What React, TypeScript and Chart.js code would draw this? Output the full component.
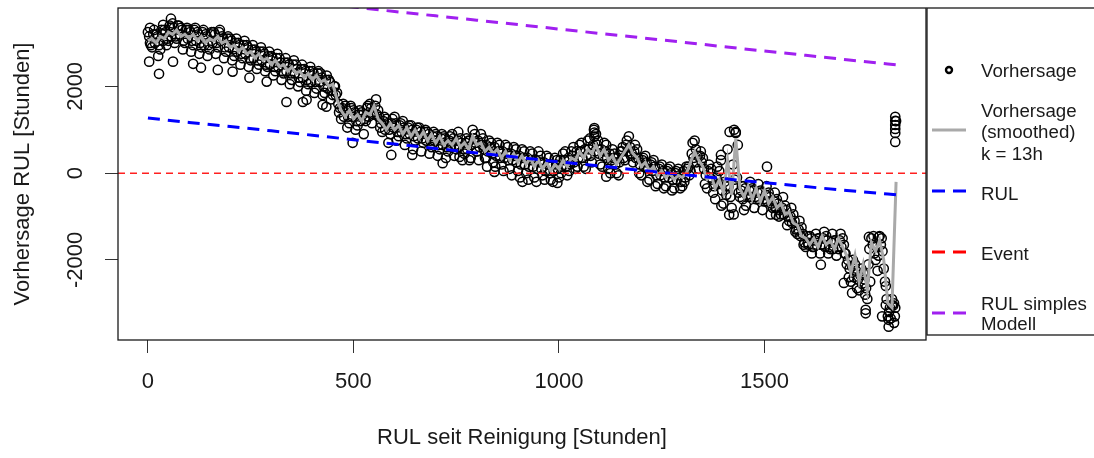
import React, { useEffect, useRef } from 'react';
import { Chart, registerables } from 'chart.js';

Chart.register(...registerables);

// ---------- data ----------
const X_MIN = -72.8;
const X_MAX = 1892.8;
const Y_MIN = -3845;
const Y_MAX = 3806;
const xTicks = [0, 500, 1000, 1500];
const yTicks = [-2000, 0, 2000];

// smoothed prediction (k = 13h), every 10 h from 0 to 1820
const smoothed = [
  3050, 3100, 3000, 3150, 3100, 3250, 3200, 3300, 3150, 3200,
  3100, 3200, 3050, 3150, 3000, 3100, 3050, 3150, 3000, 3050,
  2900, 2950, 2800, 2900, 2750, 2800, 2650, 2750, 2600, 2650,
  2500, 2600, 2450, 2500, 2350, 2450, 2300, 2350, 2200, 2300,
  2150, 2250, 2100, 2150, 2000, 2050, 1700, 1450, 1300, 1450,
  1250, 1350, 1200, 1400, 1350, 1550, 1250, 1150, 1000, 1150,
  1000, 1100, 900, 1050, 850, 1000, 800, 950, 750, 900,
  700, 850, 650, 750, 650, 800, 600, 700, 550, 850,
  650, 700, 500, 600, 450, 550, 350, 500, 300, 450,
  250, 400, 200, 350, 150, 300, 100, 250, 50, 200,
  100, 300, 150, 350, 300, 500, 350, 550, 450, 650,
  400, 550, 300, 400, 200, 350, 500, 650, 450, 350,
  150, 250, 50, 150, -50, 50, -100, 0, -150, -50,
  -100, 0, 250, 500, 300, 150, -150, -50, -350, -150,
  -450, 300, -500, 800, -350, -550, -300, -600, -350, -650,
  -400, -700, -550, -800, -700, -950, -900, -1150, -1200, -1450,
  -1500, -1650, -1500, -1700, -1450, -1650, -1550, -1750, -1500, -1700,
  -1900, -2300, -1900, -2500, -2100, -2700, -1600, -1800, -1550, -2000,
  -3000, -3100, -200,
];

// predictions at x = 0, 10, 20, ... 1820
const predA = [
  3250, 2900, 3200, 2850, 3300, 3050, 3450, 3100, 3350, 3000,
  3300, 2950, 3250, 2900, 3200, 2850, 3250, 2900, 3150, 2800,
  3100, 2700, 3000, 2650, 2950, 2600, 2850, 2500, 2800, 2450,
  2700, 2350, 2650, 2300, 2550, 2150, 2500, 2100, 2400, 2050,
  2350, 1950, 2300, 1850, 2150, 1800, 1850, 1250, 1550, 1150,
  1450, 1100, 1400, 1200, 1600, 1350, 1450, 950, 1250, 900,
  1300, 850, 1200, 800, 1100, 750, 1050, 700, 950, 600,
  900, 550, 850, 500, 900, 550, 800, 450, 750, 1000,
  500, 900, 350, 750, 250, 700, 200, 650, 100, 600,
  50, 550, 0, 500, -100, 500, -50, 400, -150, 350,
  -100, 450, -50, 500, 100, 650, 150, 750, 250, 900,
  200, 700, 100, 550, 0, 500, 300, 850, 250, 550,
  -50, 400, -150, 300, -250, 200, -300, 150, -350, 100,
  -300, 150, 50, 750, 100, 350, -350, 100, -600, 50,
  -700, 550, -800, 950, -550, -300, -550, -350, -600, -400,
  -650, -450, -800, -600, -950, -750, -1100, -950, -1400, -1250,
  -1700, -1450, -1700, -1500, -1650, -1450, -1750, -1550, -1750, -1500,
  -2100, -2500, -2100, -2700, -2300, -2900, -1500, -2000, -1450, -2200,
  -3300, -2900, 1200,
];

// predictions at x = 5, 15, 25, ... 1815
const predB = [
  3000, 3300, 2700, 3200, 2950, 3350, 3000, 3400, 2850, 3350,
  2800, 3350, 2750, 3300, 2700, 3250, 2750, 3300, 2650, 3150,
  2600, 3100, 2500, 3050, 2450, 2950, 2400, 2900, 2350, 2800,
  2250, 2750, 2150, 2650, 2050, 2600, 2000, 2500, 1900, 2450,
  1850, 2350, 1800, 2250, 1700, 2000, 1400, 1600, 1050, 1500,
  1000, 1450, 900, 1550, 1150, 1700, 1050, 1300, 700, 1250,
  750, 1150, 650, 1100, 550, 1050, 500, 1000, 450, 950,
  400, 900, 350, 850, 400, 950, 300, 800, 350, 900,
  300, 800, 150, 700, 150, 650, 50, 600, -50, 550,
  -100, 500, -150, 450, -200, 400, -150, 350, -200, 300,
  0, 500, 50, 600, 150, 700, 100, 800, 1000, 750,
  150, 650, 0, 450, -50, 600, 750, 400, 650, 0,
  350, -200, 250, -300, 150, -350, 100, -400, 50, -350,
  -200, 150, 700, 250, 500, -250, 200, -450, 150, -750,
  -300, 950, -950, 650, -300, -750, -200, -800, -250, -850,
  -300, -950, -450, -1000, -550, -1200, -800, -1350, -1100, -1650,
  -1600, -1850, -1400, -1850, -1350, -1850, -1400, -1900, -1400, -1850,
  -2400, -2000, -2650, -2200, -2800, -1750, -1450, -2250, -1500, -2600,
  -3100, -3450,
];

// predictions at x = 3, 13, 23, ... 1813
const predC = [
  3150, 3200, 3150, 3300, 3250, 3400, 3350, 3400, 3300, 3300,
  3250, 3300, 3200, 3250, 3150, 3200, 3200, 3250, 3100, 3100,
  3050, 3000, 2950, 2950, 2900, 2850, 2800, 2800, 2750, 2700,
  2650, 2650, 2550, 2550, 2500, 2500, 2400, 2400, 2350, 2350,
  2300, 2300, 2200, 2150, 2100, 2000, 1600, 1500, 1450, 1550,
  1400, 1350, 1350, 1500, 1500, 1550, 1300, 1200, 1150, 1150,
  1150, 1100, 1050, 1050, 1000, 1000, 950, 950, 900, 850,
  850, 800, 800, 750, 800, 750, 700, 700, 750, 800,
  750, 650, 650, 600, 600, 500, 500, 450, 450, 400,
  400, 350, 350, 300, 300, 250, 250, 200, 200, 200,
  300, 300, 350, 400, 500, 500, 550, 550, 650, 650,
  550, 500, 450, 350, 350, 500, 650, 600, 500, 350,
  300, 250, 200, 150, 100, 50, 50, 0, 0, -50,
  50, 100, 450, 550, 400, 100, 50, -150, -100, -250,
  -200, -300, 200, -100, -400, -350, -400, -400, -450, -450,
  -500, -550, -650, -700, -800, -850, -1000, -1100, -1300, -1400,
  -1450, -1500, -1550, -1500, -1500, -1550, -1600, -1550, -1550, -1650,
  -2000, -2150, -2250, -2350, -2450, -2100, -1650, -1700, -1650, -2500,
  -3200, -3050,
];

// predictions at x = 7, 17, 27, ... 1817
const predD = [
  2950, 3000, 2950, 3050, 3100, 3150, 3150, 3200, 3050, 3100,
  3050, 3050, 3000, 2950, 2950, 3000, 3000, 3050, 2900, 2900,
  2850, 2800, 2750, 2750, 2650, 2650, 2600, 2600, 2500, 2500,
  2450, 2450, 2350, 2350, 2300, 2300, 2200, 2200, 2150, 2100,
  2100, 2100, 2000, 1950, 1900, 1800, 1500, 1300, 1300, 1300,
  1200, 1200, 1250, 1300, 1400, 1350, 1150, 1000, 1000, 1050,
  950, 950, 900, 900, 850, 800, 800, 750, 750, 750,
  650, 650, 600, 600, 650, 600, 550, 550, 650, 700,
  600, 550, 500, 450, 400, 350, 350, 300, 300, 250,
  200, 200, 150, 150, 100, 100, 50, 0, 50, 100,
  150, 150, 200, 250, 350, 350, 400, 400, 500, 450,
  400, 350, 300, 200, 250, 350, 500, 450, 350, 200,
  150, 100, 50, -50, -50, -100, -100, -150, -150, -200,
  -100, -50, 350, 400, 250, -50, -100, -300, -250, -400,
  -500, -550, -150, -450, -600, -500, -550, -550, -600, -600,
  -650, -700, -800, -850, -950, -1000, -1150, -1300, -1450, -1600,
  -1650, -1700, -1650, -1650, -1700, -1700, -1750, -1700, -1700, -1850,
  -2200, -2400, -2450, -2550, -2650, -2500, -1850, -1900, -1800, -2900,
  -3350, -3300,
];

// isolated predictions
const extraX = [
  3, 27, 5, 37, 56, 61, 110, 129, 170, 206, 247, 289, 337, 377, 425, 386, 434,
  498, 592, 643, 717, 758, 782, 823, 843, 1086, 1086, 1086, 911, 996, 1115,
  1394, 1394, 1430, 1426, 1506, 1414, 1450, 1528, 1637, 1693, 1713, 1746, 1746,
  1754, 1778, 1786, 1802, 1802, 1795, 1810, 1818, 1818, 1818, 1818, 1818, 1818,
  1815, 1818,
];
const extraY = [
  2570, 2290, 3350, 3420, 3560, 2570, 2520, 2430, 2380, 2340, 2200, 2110, 1640, 1640, 1575, 1690, 1530,
  700, 420, 420, 230, 375, 300, 350, 30, 1040, 935, 840, -200, -225, -80,
  420, 300, 927, 1000, 150, -960, -850, -960, -2110, -2530, -2760, -3150, -3230,
  -1470, -1470, -3300, -3380, -3540, -3040, -3040, 1300, 1205, 1110, 1020, 925, 720,
  -3000, -3100,
];

// RUL (true)
const rulHours = [0, 100, 200, 300, 400, 500, 600, 700, 800, 900, 1000, 1100, 1200, 1300, 1400, 1500, 1600, 1700, 1800, 1820];
const rulValues = [1270, 1170, 1075, 975, 875, 770, 670, 570, 465, 365, 260, 165, 65, -30, -125, -220, -310, -400, -480, -500];

// RUL of simple model
const simpleHours = [0, 100, 200, 300, 400, 500, 600, 700, 800, 900, 1000, 1100, 1200, 1300, 1400, 1500, 1600, 1700, 1800, 1820];
const simpleValues = [4330, 4230, 4130, 4030, 3930, 3830, 3725, 3625, 3525, 3425, 3320, 3220, 3120, 3020, 2915, 2815, 2715, 2615, 2515, 2495];

const eventLevel = 0;

const xTitle = 'RUL seit Reinigung [Stunden]';
const yTitle = 'Vorhersage RUL [Stunden]';

const legendEntries = [
  { kind: 'point', color: '#000000', lines: ['Vorhersage'] },
  { kind: 'line', color: '#A9A9A9', lines: ['Vorhersage', '(smoothed)', 'k = 13h'] },
  { kind: 'dash', color: '#0000FF', lines: ['RUL'] },
  { kind: 'dash', color: '#FF0000', lines: ['Event'] },
  { kind: 'dash', color: '#A020F0', lines: ['RUL simples', 'Modell'] },
];

// ---------- chart ----------
const FONT = '"Liberation Sans", Arial, Helvetica, sans-serif';

const rPlugin = {
  id: 'rStyle',
  afterDraw(chart: any) {
    const { ctx, chartArea } = chart;
    const { left, right, top, bottom } = chartArea;
    const yScale = chart.scales.y;
    ctx.save();
    // plot box
    ctx.strokeStyle = '#1a1a1a';
    ctx.lineWidth = 1.3;
    ctx.strokeRect(left, top, right - left, bottom - top);
    // y tick labels rotated
    ctx.fillStyle = '#1a1a1a';
    ctx.font = `22px ${FONT}`;
    ctx.textAlign = 'center';
    ctx.textBaseline = 'middle';
    for (const v of yTicks) {
      const py = yScale.getPixelForValue(v);
      ctx.save();
      ctx.translate(76, py);
      ctx.rotate(-Math.PI / 2);
      ctx.fillText(String(v), 0, 0);
      ctx.restore();
    }
    // legend box
    const lx = right;
    ctx.strokeRect(lx + 1, top, 400, 327);
    // legend entries
    const rowY = [70, 130, 191, 252, 313];
    const textRows = [[72], [112, 133, 155], [195], [255], [305, 325]];
    ctx.font = `18.7px ${FONT}`;
    ctx.textAlign = 'left';
    legendEntries.forEach((e, i) => {
      const y = rowY[i];
      const x0 = lx + 6;
      const x1 = lx + 40;
      ctx.save();
      if (e.kind === 'point') {
        ctx.beginPath();
        ctx.arc((x0 + x1) / 2, y, 3, 0, Math.PI * 2);
        ctx.strokeStyle = e.color;
        ctx.lineWidth = 2.4;
        ctx.stroke();
      } else {
        ctx.beginPath();
        ctx.moveTo(x0, y);
        ctx.lineTo(x1, y);
        ctx.strokeStyle = e.color;
        ctx.lineWidth = 3;
        if (e.kind === 'dash') ctx.setLineDash([13, 8]);
        ctx.stroke();
      }
      ctx.restore();
      ctx.fillStyle = '#1a1a1a';
      e.lines.forEach((t, j) => ctx.fillText(t, lx + 55, textRows[i][j]));
    });
    ctx.restore();
  },
};

export default function App() {
  const ref = useRef<HTMLCanvasElement | null>(null);
  useEffect(() => {
    if (!ref.current) return;
    const predPoints = [
      ...predA.map((y, i) => ({ x: i * 10, y })),
      ...predB.map((y, i) => ({ x: i * 10 + 5, y })),
      ...predC.map((y, i) => ({ x: i * 10 + 3, y })),
      ...predD.map((y, i) => ({ x: i * 10 + 7, y })),
      ...extraX.map((x, i) => ({ x, y: extraY[i] })),
    ];
    const chart = new Chart(ref.current, {
      type: 'scatter',
      data: {
        datasets: [
          {
            type: 'line',
            label: 'RUL simples Modell',
            data: simpleHours.map((x, i) => ({ x, y: simpleValues[i] })),
            borderColor: '#A020F0',
            borderWidth: 3,
            borderDash: [12, 8],
            pointRadius: 0,
            fill: false,
            order: 1,
          } as any,
          {
            type: 'line',
            label: 'Event',
            data: [{ x: X_MIN, y: eventLevel }, { x: X_MAX, y: eventLevel }],
            borderColor: '#FF2020',
            borderWidth: 1.5,
            borderDash: [7, 5],
            pointRadius: 0,
            fill: false,
            order: 2,
          },
          {
            type: 'line',
            label: 'RUL',
            data: rulHours.map((x, i) => ({ x, y: rulValues[i] })),
            borderColor: '#0000FF',
            borderWidth: 3,
            borderDash: [12, 8],
            pointRadius: 0,
            fill: false,
            order: 3,
          },
          {
            type: 'line',
            label: 'Vorhersage (smoothed)',
            data: smoothed.map((y, i) => ({ x: i * 10, y })),
            borderColor: '#A9A9A9',
            borderWidth: 3,
            pointRadius: 0,
            fill: false,
            tension: 0,
            order: 4,
          },
          {
            type: 'scatter',
            label: 'Vorhersage',
            data: predPoints,
            borderColor: '#000000',
            backgroundColor: 'rgba(0,0,0,0)',
            borderWidth: 1.5,
            pointRadius: 4.6,
            pointStyle: 'circle',
            order: 5,
          },
        ],
      },
      options: {
        animation: false,
        responsive: false,
        events: [],
        layout: { padding: { top: 8, right: 168, left: 0, bottom: 0 } },
        plugins: { legend: { display: false }, tooltip: { enabled: false } },
        scales: {
          x: {
            type: 'linear',
            min: X_MIN,
            max: X_MAX,
            afterBuildTicks: (s: any) => { s.ticks = xTicks.map((v) => ({ value: v })); },
            afterFit: (s: any) => { s.height = 118; s.paddingLeft = 0; s.paddingRight = 0; },
            grid: { drawOnChartArea: false, drawTicks: true, tickLength: 13, color: '#333333', lineWidth: 1 },
            border: { display: false },
            ticks: {
              autoSkip: false, maxRotation: 0, minRotation: 0, padding: 16,
              color: '#1a1a1a', font: { size: 22, family: FONT },
              callback: (v: any) => String(v),
            },
            title: { display: true, text: xTitle, color: '#1a1a1a', font: { size: 22, family: FONT }, padding: { top: 0, bottom: 7 } },
          },
          y: {
            type: 'linear',
            min: Y_MIN,
            max: Y_MAX,
            afterBuildTicks: (s: any) => { s.ticks = yTicks.map((v) => ({ value: v })); },
            afterFit: (s: any) => { s.width = 118; },
            grid: { drawOnChartArea: false, drawTicks: true, tickLength: 13, color: '#333333', lineWidth: 1 },
            border: { display: false },
            ticks: { display: false },
            title: { display: true, text: yTitle, color: '#1a1a1a', font: { size: 22, family: FONT }, padding: { top: 10, bottom: 0 } },
          },
        },
      },
      plugins: [rPlugin],
    });
    return () => chart.destroy();
  }, []);
  return (
    <div style={{ position: 'absolute', left: 0, top: 0, width: 1094, height: 458, background: '#fff' }}>
      <canvas ref={ref} width={1094} height={458} style={{ display: 'block' }} />
    </div>
  );
}
